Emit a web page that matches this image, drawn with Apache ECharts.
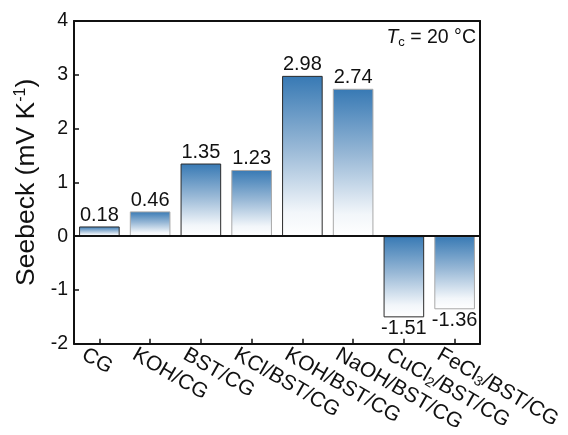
<!DOCTYPE html>
<html>
<head>
<meta charset="utf-8">
<script src="https://cdn.jsdelivr.net/npm/echarts@6/dist/echarts.min.js"></script>
<style>
  html, body { margin: 0; padding: 0; background: #fff; }
  #chart { width: 568px; height: 435px; }
</style>
</head>
<body>
<div id="chart"></div>
<script>
// Sample names (rich-text markup for chemical subscripts)
const categories = ['CG', 'KOH/CG', 'BST/CG', 'KCl/BST/CG', 'KOH/BST/CG', 'NaOH/BST/CG',
  'CuCl{sub|2}/BST/CG', 'FeCl{sub|3}/BST/CG'];
// Seebeck coefficient, mV K^-1
const seebeck = [0.18, 0.46, 1.35, 1.23, 2.98, 2.74, -1.51, -1.36];
// Outline colour of each bar
const borderColors = ['#2b2b2b', '#a8a8a8', '#2b2b2b', '#a8a8a8', '#2b2b2b', '#a8a8a8', '#2b2b2b', '#a8a8a8'];
const yTicks = { min: -2, max: 4, interval: 1 };

const font = 'Liberation Sans, Arial, sans-serif';

const fill = new echarts.graphic.LinearGradient(0, 0, 0, 1, [
  { offset: 0, color: '#3779b4' },
  { offset: 0.45, color: '#98b8d6' },
  { offset: 0.85, color: '#f2f6fa' },
  { offset: 1, color: '#ffffff' }
]);

const chart = echarts.init(document.getElementById('chart'), null, { renderer: 'canvas' });

chart.setOption({
  animation: false,
  backgroundColor: '#fff',
  grid: { left: 74, right: 88, top: 21, bottom: 89, containLabel: false },
  xAxis: [{
    type: 'category',
    data: categories,
    position: 'bottom',
    axisLine: { onZero: false, lineStyle: { color: '#111', width: 2 } },
    axisTick: { show: true, inside: true, alignWithLabel: true, length: 5, lineStyle: { color: '#111', width: 1.5 } },
    axisLabel: {
      rotate: -30, interval: 0, margin: 6,
      padding: [22, 0, 0, -12],
      color: '#111', fontFamily: font, fontSize: 21,
      rich: { sub: { fontSize: 14, verticalAlign: 'bottom', padding: [10, 0, 0, 0], fontFamily: font, color: '#111' } }
    },
    splitLine: { show: false }
  }, {
    type: 'category',
    data: categories,
    position: 'top',
    axisLine: { onZero: false, lineStyle: { color: '#111', width: 2 } },
    axisTick: { show: false },
    axisLabel: { show: false }
  }],
  yAxis: [{
    type: 'value',
    min: yTicks.min, max: yTicks.max, interval: yTicks.interval,
    name: 'Seebeck (mV K{sup|-1})',
    nameLocation: 'middle',
    nameGap: 30,
    nameTextStyle: {
      color: '#111', fontFamily: font, fontSize: 26.5,
      rich: { sup: { fontSize: 16, verticalAlign: 'top', padding: [0, 0, 12, 0], fontFamily: font, color: '#111' } }
    },
    axisLine: { show: true, lineStyle: { color: '#111', width: 2 } },
    axisTick: { show: true, inside: true, length: 5, lineStyle: { color: '#111', width: 1.5 } },
    axisLabel: { color: '#111', fontFamily: font, fontSize: 19.5, margin: 6 },
    splitLine: { show: false }
  }, {
    type: 'value',
    position: 'right',
    min: yTicks.min, max: yTicks.max, interval: yTicks.interval,
    axisLine: { show: true, lineStyle: { color: '#111', width: 2 } },
    axisTick: { show: false },
    axisLabel: { show: false },
    splitLine: { show: false }
  }],
  series: [{
    type: 'bar',
    xAxisIndex: 0,
    yAxisIndex: 0,
    barCategoryGap: '20%',
    data: seebeck.map((v, i) => ({
      value: v,
      itemStyle: { color: fill, borderColor: borderColors[i], borderWidth: 1 },
      label: { position: v >= 0 ? 'top' : 'bottom', distance: 1 }
    })),
    label: {
      show: true,
      color: '#111', fontFamily: font, fontSize: 20,
      formatter: p => p.value.toFixed(2)
    },
    markLine: {
      silent: true,
      symbol: 'none',
      label: { show: false },
      lineStyle: { color: '#111', width: 2, type: 'solid' },
      data: [{ yAxis: 0 }]
    }
  }],
  graphic: [{
    type: 'text',
    right: 92,
    top: 28,
    style: {
      text: '{it|T}{sub|c} = 20 °C',
      fontFamily: font, fontSize: 19.5, fill: '#111',
      rich: {
        it: { fontStyle: 'italic', fontSize: 19.5, fontFamily: font, fill: '#111' },
        sub: { fontSize: 13, verticalAlign: 'bottom', padding: [9, 0, 0, 0], fontFamily: font, fill: '#111' }
      }
    }
  }]
});
</script>
</body>
</html>
